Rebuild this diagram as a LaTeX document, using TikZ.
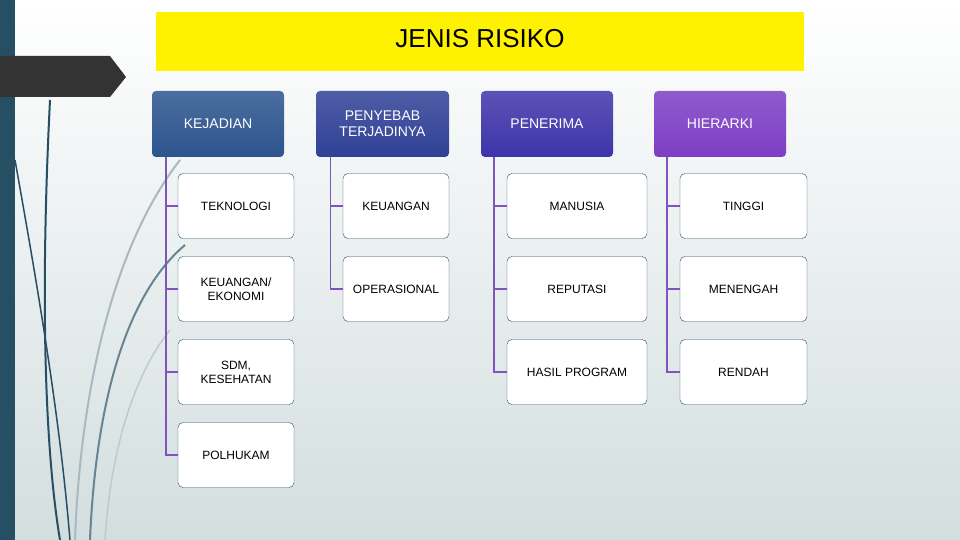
\documentclass[tikz,border=0pt]{standalone}
\usepackage{fontspec}
\setmainfont{Liberation Sans}
\usetikzlibrary{positioning}
\definecolor{bartone}{RGB}{38,79,99}
\definecolor{headA}{RGB}{44,84,142}
\definecolor{headB}{RGB}{48,64,150}
\definecolor{headC}{RGB}{62,52,170}
\definecolor{headD}{RGB}{124,62,196}
\definecolor{linktone}{RGB}{128,84,190}
\tikzset{
  head/.style={rounded corners=4pt, minimum width=132pt, minimum height=66pt,
    text=white, font=\fontsize{14}{16}\selectfont, align=center},
  leaf/.style={draw=bartone, rounded corners=5pt, fill=white, minimum height=65pt,
    font=\fontsize{12}{14}\selectfont, align=center},
  link/.style={draw=linktone, line width=1.2pt}
}
\begin{document}
\begin{tikzpicture}[x=1pt,y=-1pt]
\useasboundingbox (0,0) rectangle (960,540);
% background
\shade[top color=white, bottom color=blue!5!cyan!15!gray!30] (0,0) rectangle (960,540);
\fill[bartone] (0,0) rectangle (15,540);
% swooshes
\draw[bartone, line width=2pt] (50,100) .. controls (40,300) and (45,450) .. (60,540);
\draw[bartone, line width=1.5pt] (15,160) .. controls (40,300) and (60,420) .. (70,540);
\draw[bartone!40, line width=2pt] (180,160) .. controls (110,250) and (80,400) .. (75,540);
\draw[bartone!70, line width=2pt] (185,245) .. controls (120,300) and (95,420) .. (90,540);
\draw[bartone!30, line width=1.5pt] (170,330) .. controls (130,380) and (110,460) .. (105,540);
\fill[black!80] (0,56) -- (110,56) -- (126,77) -- (110,97) -- (0,97) -- cycle;
% title
\fill[yellow] (156,12) rectangle (804,71);
\node[font=\fontsize{26}{30}\selectfont] (title) at (480,39) {JENIS RISIKO};

% headers
\node[head, top color=headA!85!white, bottom color=headA] (kej) at (218,124) {KEJADIAN};
\node[head, top color=headB!85!white, bottom color=headB, minimum width=133pt] (pen) at (382.5,124) {PENYEBAB\\TERJADINYA};
\node[head, top color=headC!85!white, bottom color=headC] (ter) at (547,124) {PENERIMA};
\node[head, top color=headD!85!white, bottom color=headD] (hie) at (720,124) {HIERARKI};

% leaves
\foreach \n/\t [count=\i] in {a1/TEKNOLOGI, a2/{KEUANGAN/\\EKONOMI}, a3/{SDM,\\KESEHATAN}, a4/POLHUKAM}
  \node[leaf, minimum width=116pt] (\n) at (236,123+83*\i) {\t};
\foreach \n/\t [count=\i] in {b1/KEUANGAN, b2/OPERASIONAL}
  \node[leaf, minimum width=106pt] (\n) at (396,123+83*\i) {\t};
\foreach \n/\t [count=\i] in {c1/MANUSIA, c2/REPUTASI, c3/HASIL PROGRAM}
  \node[leaf, minimum width=140pt] (\n) at (577,123+83*\i) {\t};
\foreach \n/\t [count=\i] in {d1/TINGGI, d2/MENENGAH, d3/RENDAH}
  \node[leaf, minimum width=127pt] (\n) at (743.5,123+83*\i) {\t};

% connectors
\draw[link] ([xshift=-52pt]kej.south) |- (a4.west);
\foreach \n in {a1,a2,a3} \draw[link] ([xshift=-52pt]kej.south |- \n.west) -- (\n.west);
\draw[link] ([xshift=-52pt]pen.south) |- (b2.west);
\draw[link] ([xshift=-52pt]pen.south |- b1.west) -- (b1.west);
\draw[link] ([xshift=-53pt]ter.south) |- (c3.west);
\foreach \n in {c1,c2} \draw[link] ([xshift=-53pt]ter.south |- \n.west) -- (\n.west);
\draw[link] ([xshift=-53pt]hie.south) |- (d3.west);
\foreach \n in {d1,d2} \draw[link] ([xshift=-53pt]hie.south |- \n.west) -- (\n.west);
\end{tikzpicture}
\end{document}
